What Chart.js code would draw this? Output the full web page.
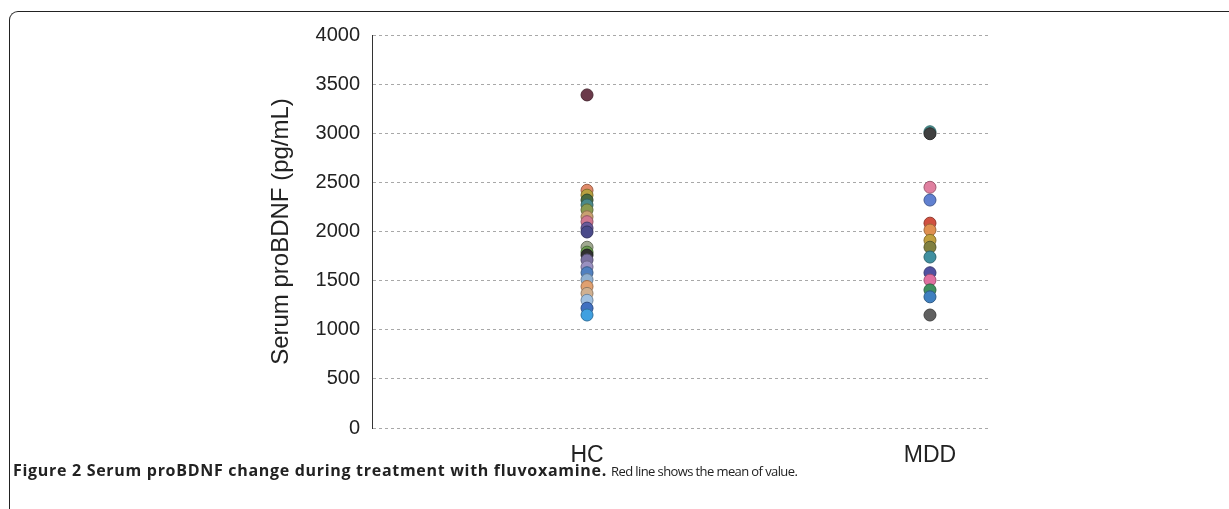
<!DOCTYPE html>
<html>
<head>
<meta charset="utf-8">
<script src="https://cdn.jsdelivr.net/npm/chart.js@4/dist/chart.umd.min.js"></script>
<style>
  body { margin: 0; background: #fff; }
  #wrap { position: relative; width: 1229px; height: 509px; overflow: hidden; }
  #frame { position: absolute; left: 9px; top: 11px; width: 1240px; height: 520px;
           border-top: 1.5px solid #222; border-left: 1.5px solid #222; border-top-left-radius: 9px; }
  #cap { position: absolute; left: 13px; top: 459px; font-family: "Open Sans", sans-serif;
         color: #222; white-space: nowrap; }
  #cap b { font-weight: 700; font-size: 16px; letter-spacing: 0.7px; }
  #cap span { font-size: 13px; letter-spacing: -0.6px; }
  canvas { position: absolute; left: 0; top: 0; }
</style>
</head>
<body>
<div id="wrap">
  <div id="frame"></div>
  <canvas id="myChart" width="1229" height="509"></canvas>
  <div id="cap"><b>Figure 2 Serum proBDNF change during treatment with fluvoxamine.</b> <span>Red line shows the mean of value.</span></div>
</div>
<script>
var groups = ['HC', 'MDD'];
var yTicks = [0, 500, 1000, 1500, 2000, 2500, 3000, 3500, 4000];

var hcValues = [3390, 2420, 2370, 2320, 2270, 2220, 2150, 2100, 2035, 1995, 1840, 1790, 1760, 1710, 1640, 1580, 1510, 1440, 1370, 1300, 1220, 1150];
var hcColors = ['#6b3a4a', '#e08a6a', '#b8a040', '#4a6a40', '#4a8a8a', '#8a9a50', '#c8a070', '#d07890', '#6a5a9a', '#4a4a8a', '#a0a890',
                '#6a9a50', '#303030', '#7a70a0', '#9a90c0', '#5080c0', '#90b0d0', '#e0a070', '#d0b090', '#a0c0e0', '#4070c0', '#40a0e0'];

var mddValues = [3015, 2995, 2450, 2320, 2085, 2015, 1910, 1840, 1740, 1580, 1505, 1405, 1335, 1150];
var mddColors = ['#4a9a9a', '#404040', '#e080a0', '#6080d0', '#d05040', '#e09050', '#c0a040', '#808040', '#4090a0', '#5050a0', '#e070a0',
                 '#409060', '#4080c0', '#606060'];

function toPoints(vals, pos){
  var pts = [];
  for (var i = 0; i < vals.length; i++) pts.push({x: pos, y: vals[i]});
  return pts;
}
function darker(hex){
  var n = parseInt(hex.slice(1), 16);
  var r = Math.round(((n >> 16) & 255) * 0.7), g = Math.round(((n >> 8) & 255) * 0.7), b = Math.round((n & 255) * 0.7);
  return 'rgb(' + r + ',' + g + ',' + b + ')';
}

var ctx = document.getElementById('myChart');
var chart = new Chart(ctx, {
  type: 'scatter',
  data: {
    datasets: [{
      label: groups[0],
      data: toPoints(hcValues, 1),
      pointBackgroundColor: hcColors,
      pointBorderColor: hcColors.map(darker),
      pointBorderWidth: 1,
      pointRadius: 6
    }, {
      label: groups[1],
      data: toPoints(mddValues, 2),
      pointBackgroundColor: mddColors,
      pointBorderColor: mddColors.map(darker),
      pointBorderWidth: 1,
      pointRadius: 6
    }]
  },
  options: {
    responsive: false,
    animation: false,
    layout: { padding: { left: 267, top: 35, right: 239, bottom: 0 } },
    plugins: { legend: { display: false }, tooltip: { enabled: false } },
    scales: {
      x: {
        type: 'linear',
        min: 0.373,
        max: 2.175,
        afterBuildTicks: function(s){ s.ticks = [{value: 1}, {value: 2}]; },
        afterFit: function(s){ s.height = 81; },
        grid: { display: false, drawTicks: false },
        border: { display: false },
        ticks: {
          padding: 14,
          color: '#222',
          font: { family: 'Liberation Sans', size: 23 },
          callback: function(v){ return groups[v - 1]; }
        }
      },
      y: {
        min: 0,
        max: 4000,
        afterBuildTicks: function(s){ s.ticks = yTicks.map(function(v){ return {value: v}; }); },
        afterFit: function(s){ s.width = 105; },
        grid: { color: '#a8a8a8', lineWidth: 1, drawTicks: false },
        border: { color: '#333', width: 1, dash: [3, 3] },
        ticks: {
          padding: 12,
          color: '#222',
          font: { family: 'Liberation Sans', size: 20 },
          callback: function(v){ return String(v); }
        },
        title: {
          display: true,
          text: 'Serum proBDNF (pg/mL)',
          color: '#222',
          font: { family: 'Liberation Sans', size: 24 },
          padding: { top: 0, bottom: 0 }
        }
      }
    }
  }
});
</script>
</body>
</html>
